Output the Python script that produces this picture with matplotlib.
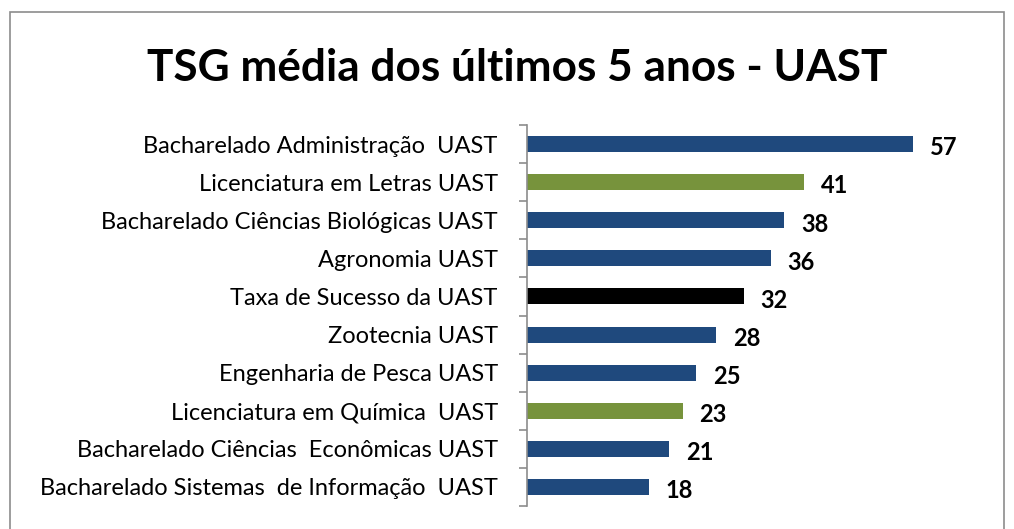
import matplotlib.pyplot as plt
from matplotlib.patches import Rectangle
import numpy as np

CATEGORIES = [
    "Bacharelado Administração  UAST",
    "Licenciatura em Letras UAST",
    "Bacharelado Ciências Biológicas UAST",
    "Agronomia UAST",
    "Taxa de Sucesso da UAST",
    "Zootecnia UAST",
    "Engenharia de Pesca UAST",
    "Licenciatura em Química  UAST",
    "Bacharelado Ciências  Econômicas UAST",
    "Bacharelado Sistemas  de Informação  UAST",
]
VALUES = [57, 41, 38, 36, 32, 28, 25, 23, 21, 18]
GROUPS = ["bach", "lic", "bach", "bach", "total", "bach", "bach", "lic", "bach", "bach"]

COLORS = {"bach": "#1F497D", "lic": "#77933C", "total": "#000000"}
FONT = "Lato"

fig = plt.figure(figsize=(10.14, 5.29), dpi=100)
fig.patches.append(Rectangle((10 / 1014, -0.01), 994 / 1014, 1 - 12 / 529 + 0.01,
                             transform=fig.transFigure, fill=False,
                             edgecolor="#8C8C8C", linewidth=1.2))

ax = fig.add_axes([527 / 1014, 1 - 506 / 529, (933 - 527) / 1014, (506 - 125) / 529])

y = np.arange(len(CATEGORIES))
ax.barh(y, VALUES, height=0.42, color=[COLORS[g] for g in GROUPS])
ax.set_xlim(0, 60)
ax.set_ylim(len(CATEGORIES) - 0.5, -0.5)

for yi, v in zip(y, VALUES):
    ax.text(v + 2.5, yi + 0.1, str(v), va="center", ha="left",
            fontsize=17, fontweight="bold", family=FONT)

ax.set_yticks(y)
ax.set_yticklabels(CATEGORIES, family=FONT, fontsize=17)
ax.set_yticks(np.arange(-0.5, len(CATEGORIES)), minor=True)
ax.tick_params(axis="y", which="major", length=0, pad=21)
ax.tick_params(axis="y", which="minor", length=6, color="#8C8C8C", width=1.2)
ax.set_xticks([])
for s in ["top", "right", "bottom"]:
    ax.spines[s].set_visible(False)
ax.spines["left"].set_color("#8C8C8C")
ax.spines["left"].set_linewidth(1.2)

fig.text(517 / 1014, 1 - 68 / 529, "TSG média dos últimos 5 anos - UAST", ha="center",
         va="center", fontsize=31.8, fontweight="bold", family=FONT)

fig.savefig("out.png", dpi=100)
